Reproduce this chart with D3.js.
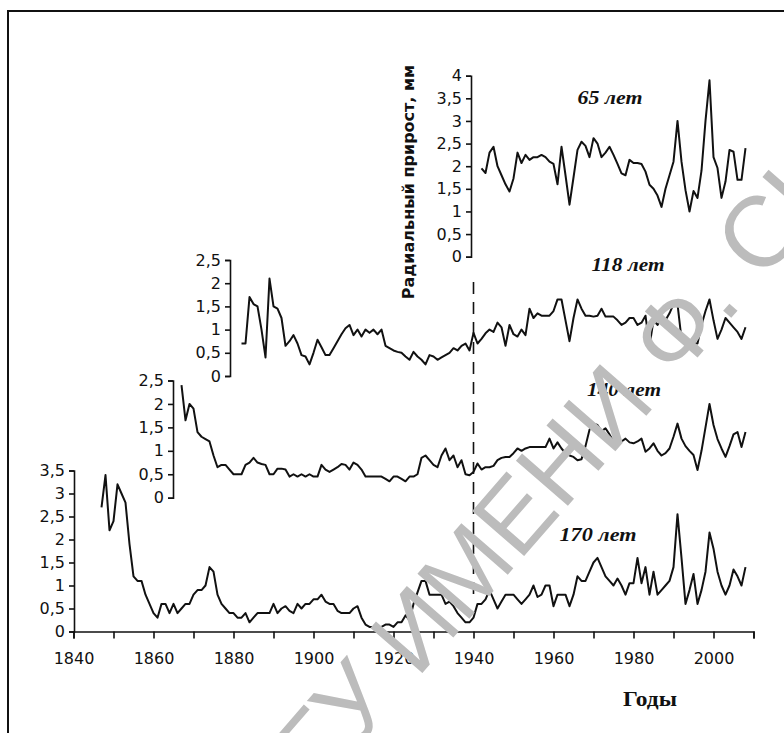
<!DOCTYPE html>
<html lang="ru">
<head>
<meta charset="UTF-8">
<title>Радиальный прирост</title>
<script src="https://d3js.org/d3.v7.min.js"></script>
<style>
  body { margin: 0; background: #fff; }
  svg { display: block; }
  .axis text { font-family: "DejaVu Sans", sans-serif; fill: #111; }
  .axis path, .axis line { stroke: #111; stroke-width: 1.6; }
  .age { font-family: "Liberation Serif", "Times New Roman", serif; font-weight: bold; font-style: italic; fill: #111; }
</style>
</head>
<body>
<svg id="chart" width="784" height="733"></svg>
<script>
// tree ages (years) and the first year of each chronology
const ages = [170, 140, 118, 65];
const startYears = [1847, 1867, 1882, 1942];

// radial increment, mm, one value per year up to 2008
const s170 = [
  2.7, 3.4, 2.2, 2.4, 3.2, 3.0, 2.8, 1.9, 1.2, 1.1,
  1.1, 0.8, 0.6, 0.4, 0.3, 0.6, 0.6, 0.4, 0.6, 0.4,
  0.5, 0.6, 0.6, 0.8, 0.9, 0.9, 1.0, 1.4, 1.3, 0.8,
  0.6, 0.5, 0.4, 0.4, 0.3, 0.3, 0.4, 0.2, 0.3, 0.4,
  0.4, 0.4, 0.4, 0.6, 0.4, 0.5, 0.55, 0.45, 0.4, 0.6,
  0.5, 0.6, 0.6, 0.7, 0.7, 0.8, 0.65, 0.6, 0.6, 0.45,
  0.4, 0.4, 0.4, 0.5, 0.55, 0.3, 0.15, 0.1, 0.1, 0.1,
  0.1, 0.15, 0.15, 0.1, 0.2, 0.2, 0.35, 0.25, 0.6, 0.85,
  1.1, 1.1, 0.8, 0.8, 0.8, 0.8, 0.6, 0.65, 0.55, 0.4,
  0.3, 0.2, 0.2, 0.3, 0.6, 0.6, 0.7, 0.9, 0.7, 0.5,
  0.65, 0.8, 0.8, 0.8, 0.7, 0.6, 0.7, 0.8, 1.0, 0.75,
  0.8, 1.0, 1.0, 0.55, 0.8, 0.8, 0.8, 0.55, 0.8, 1.2,
  1.1, 1.1, 1.3, 1.5, 1.6, 1.4, 1.2, 1.1, 1.0, 1.15,
  1.0, 0.8, 1.05, 1.05, 1.6, 1.05, 1.4, 0.8, 1.3, 0.8,
  0.9, 1.0, 1.1, 1.4, 2.55, 1.6, 0.6, 0.9, 1.25, 0.6,
  0.9, 1.3, 2.15, 1.8, 1.3, 1.0, 0.8, 1.0, 1.35, 1.2,
  1.0, 1.4
];
const s140 = [
  2.4, 1.65, 2.0, 1.9, 1.4, 1.3, 1.25, 1.2, 0.9, 0.65,
  0.7, 0.7, 0.6, 0.5, 0.5, 0.5, 0.7, 0.75, 0.85, 0.75,
  0.72, 0.7, 0.5, 0.5, 0.62, 0.62, 0.6, 0.45, 0.5, 0.45,
  0.5, 0.45, 0.5, 0.45, 0.45, 0.7, 0.6, 0.55, 0.6, 0.65,
  0.72, 0.7, 0.6, 0.75, 0.7, 0.6, 0.45, 0.45, 0.45, 0.45,
  0.45, 0.4, 0.35, 0.45, 0.45, 0.4, 0.35, 0.45, 0.45, 0.5,
  0.85, 0.9, 0.8, 0.7, 0.65, 0.9, 1.05, 0.8, 0.9, 0.65,
  0.8, 0.5, 0.48, 0.55, 0.73, 0.6, 0.65, 0.65, 0.68, 0.8,
  0.85, 0.87, 0.87, 0.95, 1.05, 1.0, 1.05, 1.08, 1.08, 1.08,
  1.08, 1.08, 1.26, 1.05, 1.18, 1.05, 0.95, 0.9, 0.87, 0.8,
  0.82, 1.1, 1.45, 1.58, 1.55, 1.42, 1.48, 1.35, 1.2, 1.2,
  1.2, 1.26, 1.18, 1.16, 1.2, 1.26, 0.98, 1.05, 1.16, 1.0,
  0.9, 0.95, 1.05, 1.3, 1.58, 1.26, 1.1, 1.0, 0.91, 0.59,
  1.0, 1.5, 2.0, 1.55, 1.25, 1.05, 0.87, 1.1, 1.35, 1.4,
  1.08, 1.4
];
const s118 = [
  0.7, 0.7, 1.7, 1.55, 1.5, 1.0, 0.4, 2.1, 1.5, 1.45,
  1.25, 0.65, 0.75, 0.88, 0.7, 0.45, 0.42, 0.25, 0.5, 0.78,
  0.62, 0.45, 0.45, 0.6, 0.75, 0.9, 1.03, 1.1, 0.88, 1.0,
  0.85, 1.0, 0.93, 1.0, 0.9, 1.0, 0.65, 0.6, 0.55, 0.52,
  0.5, 0.42, 0.35, 0.52, 0.42, 0.35, 0.25, 0.45, 0.42, 0.35,
  0.4, 0.45, 0.5, 0.6, 0.55, 0.65, 0.7, 0.55, 0.93, 0.7,
  0.8, 0.92, 1.0, 0.95, 1.15, 1.05, 0.65, 1.1, 0.9, 0.85,
  1.0, 0.88, 1.45, 1.25, 1.35, 1.3, 1.3, 1.3, 1.4, 1.65,
  1.65, 1.2, 0.75, 1.25, 1.65, 1.45, 1.3, 1.3, 1.28, 1.3,
  1.45, 1.28, 1.28, 1.28, 1.2, 1.1, 1.15, 1.25, 1.25, 1.1,
  1.15, 1.3, 0.65, 1.2, 1.1, 1.25, 1.2, 1.35, 1.55, 1.55,
  0.8, 0.75, 0.7, 0.7, 0.7, 1.1, 1.4, 1.65, 1.2, 0.8,
  1.0, 1.25, 1.15, 1.05, 0.95, 0.8, 1.05
];
const s65 = [
  1.95, 1.85, 2.3, 2.43, 2.0, 1.8, 1.6, 1.44, 1.73, 2.3,
  2.07, 2.25, 2.14, 2.2, 2.2, 2.25, 2.2, 2.1, 2.05, 1.6,
  2.43, 1.8, 1.15, 1.75, 2.36, 2.54, 2.45, 2.2, 2.62, 2.5,
  2.2, 2.3, 2.43, 2.25, 2.05, 1.84, 1.8, 2.14, 2.07, 2.07,
  2.05, 1.88, 1.59, 1.5, 1.35, 1.1, 1.5, 1.8, 2.1, 3.0,
  2.1, 1.47, 1.0, 1.45, 1.3, 1.9, 3.0, 3.9, 2.2, 1.96,
  1.3, 1.66, 2.36, 2.32, 1.7, 1.7, 2.4
];
const seriesValues = [s170, s140, s118, s65];

// axis ticks
const yearTicks = d3.range(1840, 2011, 10);
const yMax = [3.5, 2.5, 2.5, 4];
const markYear = 1940;
const watermark = "ГГУ ИМЕНИ Ф. СКОРИНЫ";

const svg = d3.select("#chart");

// frame
svg.append("rect")
  .attr("x", 8).attr("y", 11)
  .attr("width", 820).attr("height", 800)
  .attr("fill", "none").attr("stroke", "#111").attr("stroke-width", 2);

const x = d3.scaleLinear().domain([1840, 2010]).range([73.5, 753.5]);

// layout of the four stacked panels: y-axis position and pixel range,
// label centre and measured label width
const panels = [
  { axisX: 74,  y0: 631.5, yTop: 470.5, label: [598, 541, 77] },
  { axisX: 173, y0: 497.7, yTop: 380.5, label: [624, 396, 74] },
  { axisX: 230, y0: 376,   yTop: 260,   label: [628, 271, 73] },
  { axisX: 471, y0: 256.7, yTop: 75.7,  label: [610, 104, 65] }
];

const comma = d => String(d).replace(".", ",");

panels.forEach((p, i) => {
  const y = d3.scaleLinear().domain([0, yMax[i]]).range([p.y0, p.yTop]);

  const g = svg.append("g")
    .attr("class", "axis")
    .attr("transform", `translate(${p.axisX},0)`)
    .call(d3.axisLeft(y)
      .tickValues(d3.range(0, yMax[i] + 0.01, 0.5))
      .tickFormat(comma)
      .tickSize(5)
      .tickPadding(4));
  g.selectAll("text").style("font-size", "16px");

  const line = d3.line()
    .x((d, k) => x(startYears[i] + k))
    .y(d => y(d));

  svg.append("path")
    .datum(seriesValues[i])
    .attr("d", line)
    .attr("fill", "none")
    .attr("stroke", "#111")
    .attr("stroke-width", 2)
    .attr("stroke-linejoin", "round");

  svg.append("text")
    .attr("class", "age")
    .attr("x", p.label[0] - p.label[2] / 2).attr("y", p.label[1])
    .attr("textLength", p.label[2])
    .attr("lengthAdjust", "spacingAndGlyphs")
    .style("font-size", "18px")
    .text(`${ages[i]} лет`);
});

// bottom year axis
const xAxis = svg.append("g")
  .attr("class", "axis")
  .attr("transform", "translate(0,631.5)")
  .call(d3.axisBottom(x)
    .tickValues(yearTicks)
    .tickFormat(d => d % 20 === 0 && d <= 2000 ? d : "")
    .tickSize(7)
    .tickPadding(14));
xAxis.selectAll("text").style("font-size", "16px");

// dashed marker at 1940
svg.append("line")
  .attr("x1", x(markYear)).attr("x2", x(markYear))
  .attr("y1", 282).attr("y2", 597)
  .attr("stroke", "#111")
  .attr("stroke-width", 1.6)
  .attr("stroke-dasharray", "12,8");

// axis titles
svg.append("text")
  .attr("transform", "translate(414,182) rotate(-90)")
  .attr("text-anchor", "middle")
  .style("font-family", "'DejaVu Sans', sans-serif")
  .style("font-weight", "bold")
  .style("font-size", "16px")
  .style("fill", "#111")
  .text("Радиальный прирост, мм");

svg.append("text")
  .attr("x", 623).attr("y", 706)
  .attr("textLength", 54)
  .attr("lengthAdjust", "spacingAndGlyphs")
  .style("font-family", "'Liberation Serif', 'Times New Roman', serif")
  .style("font-weight", "bold")
  .style("font-size", "20px")
  .style("fill", "#111")
  .text("Годы");

// library watermark laid diagonally over the scan
svg.append("text")
  .attr("transform", "translate(286,830) rotate(-49)")
  .style("font-family", "'Liberation Sans', Arial, sans-serif")
  .style("font-size", "100px")
  .style("fill", "#bcbcbc")
  .text(watermark);
</script>
</body>
</html>
